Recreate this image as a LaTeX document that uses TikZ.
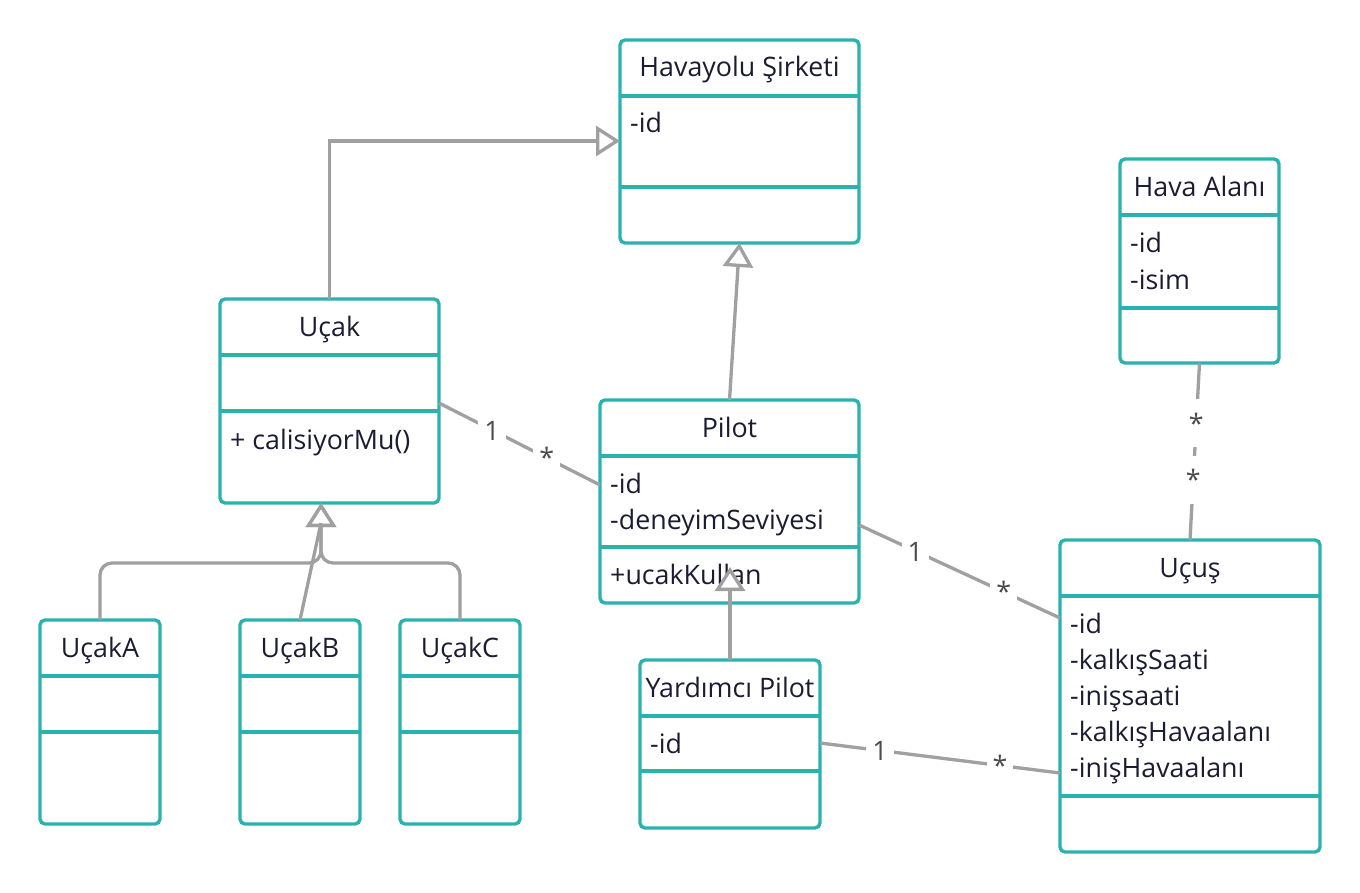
\documentclass[tikz,border=0pt]{standalone}
\usepackage{fontspec}
\setmainfont{Open Sans}
\usepackage{tikz}
\usetikzlibrary{arrows.meta}

\definecolor{clsborder}{HTML}{2AB2AE}
\definecolor{clstext}{HTML}{1B1B33}
\definecolor{linegray}{HTML}{A0A0A0}
\definecolor{multtext}{HTML}{4A4A4A}

\tikzset{
  cls/.style={draw=clsborder, line width=3.4pt, rounded corners=5pt, anchor=north west,
              inner sep=0pt, outer sep=0pt},
  divider/.style={draw=clsborder, line width=3.4pt},
  title/.style={anchor=base, inner sep=0pt, text=clstext, font=\fontsize{26.8}{36}\selectfont},
  attr/.style={anchor=base west, inner sep=0pt, xshift=10pt, text=clstext, font=\fontsize{26.8}{36}\selectfont},
  gen/.style={draw=linegray, line width=3.3pt,
              -{Triangle[width=30pt, length=24pt, line width=3.3pt, fill=white]}},
  assoc/.style={draw=linegray, line width=3.3pt},
  mult/.style={fill=white, text=multtext, inner xsep=6pt, inner ysep=6pt,
               text height=28pt, text depth=8pt, font=\fontsize{26.8}{36}\selectfont}
}

\begin{document}
\begin{tikzpicture}[x=1pt, y=-1pt]
  \useasboundingbox (0,0) rectangle (1360,893);

  % Havayolu Sirketi
  \node[cls, minimum width=239pt, minimum height=203pt] (hav) at (620,40) {};
  \draw[divider] (hav.west |- 0,96) -- (hav.east |- 0,96);
  \draw[divider] (hav.west |- 0,187) -- (hav.east |- 0,187);
  \node[title] at (hav.north |- 0,77) {Havayolu Şirketi};
  \node[attr] at (hav.west |- 0,133) {-id};

  % Ucak
  \node[cls, minimum width=219pt, minimum height=204pt] (ucak) at (220,299) {};
  \draw[divider] (ucak.west |- 0,355) -- (ucak.east |- 0,355);
  \draw[divider] (ucak.west |- 0,411) -- (ucak.east |- 0,411);
  \node[title] at (ucak.north |- 0,336) {Uçak};
  \node[attr] at (ucak.west |- 0,449) {+ calisiyorMu()};

  % Pilot
  \node[cls, minimum width=259pt, minimum height=203pt] (pilot) at (600,400) {};
  \draw[divider] (pilot.west |- 0,456) -- (pilot.east |- 0,456);
  \draw[divider] (pilot.west |- 0,547) -- (pilot.east |- 0,547);
  \node[title] at (pilot.north |- 0,437) {Pilot};
  \node[attr] at (pilot.west |- 0,493) {-id};
  \node[attr] at (pilot.west |- 0,529) {-deneyimSeviyesi};
  \node[attr] at (pilot.west |- 0,584) {+ucakKullan};

  % Hava Alani
  \node[cls, minimum width=159pt, minimum height=204pt] (hava) at (1120,159) {};
  \draw[divider] (hava.west |- 0,215) -- (hava.east |- 0,215);
  \draw[divider] (hava.west |- 0,308) -- (hava.east |- 0,308);
  \node[title] at (hava.north |- 0,197) {Hava Alanı};
  \node[attr] at (hava.west |- 0,253) {-id};
  \node[attr] at (hava.west |- 0,290) {-isim};

  % Ucus
  \node[cls, minimum width=260pt, minimum height=312pt] (ucus) at (1060,540) {};
  \draw[divider] (ucus.west |- 0,596) -- (ucus.east |- 0,596);
  \draw[divider] (ucus.west |- 0,796) -- (ucus.east |- 0,796);
  \node[title] at (ucus.north |- 0,577) {Uçuş};
  \node[attr] at (ucus.west |- 0,633) {-id};
  \node[attr] at (ucus.west |- 0,669) {-kalkışSaati};
  \node[attr] at (ucus.west |- 0,705) {-inişsaati};
  \node[attr] at (ucus.west |- 0,741) {-kalkışHavaalanı};
  \node[attr] at (ucus.west |- 0,777) {-inişHavaalanı};

  % Yardimci Pilot
  \node[cls, minimum width=180pt, minimum height=168pt] (yard) at (640,660) {};
  \draw[divider] (yard.west |- 0,716) -- (yard.east |- 0,716);
  \draw[divider] (yard.west |- 0,771) -- (yard.east |- 0,771);
  \node[title] at (yard.north |- 0,697) {Yardımcı Pilot};
  \node[attr] at (yard.west |- 0,753) {-id};

  % UcakA, UcakB, UcakC
  \node[cls, minimum width=120pt, minimum height=204pt] (ucakA) at (40,620) {};
  \draw[divider] (ucakA.west |- 0,676) -- (ucakA.east |- 0,676);
  \draw[divider] (ucakA.west |- 0,732) -- (ucakA.east |- 0,732);
  \node[title] at (ucakA.north |- 0,657) {UçakA};

  \node[cls, minimum width=120pt, minimum height=204pt] (ucakB) at (240,620) {};
  \draw[divider] (ucakB.west |- 0,676) -- (ucakB.east |- 0,676);
  \draw[divider] (ucakB.west |- 0,732) -- (ucakB.east |- 0,732);
  \node[title] at (ucakB.north |- 0,657) {UçakB};

  \node[cls, minimum width=120pt, minimum height=204pt] (ucakC) at (400,620) {};
  \draw[divider] (ucakC.west |- 0,676) -- (ucakC.east |- 0,676);
  \draw[divider] (ucakC.west |- 0,732) -- (ucakC.east |- 0,732);
  \node[title] at (ucakC.north |- 0,657) {UçakC};

  % generalisations
  \draw[gen] (ucak.north) |- (hav.west |- 0,141);
  \draw[gen] (pilot.north) -- (hav.south);
  \draw[gen] (yard.north) -- (yard.north |- 0,567);
  \draw[gen, rounded corners=12pt] (ucakA.north) |- (321,563) -- (ucak.south -| 321,0);
  \draw[gen, rounded corners=12pt] (ucakC.north) |- (321,563) -- (ucak.south -| 321,0);
  \draw[assoc] (ucakB.north) -- (321,523);

  % associations
  \draw[assoc] (ucak.east |- 0,403) -- node[mult, pos=0.33] {1} node[mult, pos=0.67] {*} (pilot.west |- 0,485);
  \draw[assoc] (pilot.east |- 0,525) -- node[mult, pos=0.28] {1} node[mult, pos=0.72] {*} (ucus.west |- 0,618);
  \draw[assoc] (yard.east |- 0,743) -- node[mult, pos=0.25] {1} node[mult, pos=0.75] {*} (ucus.west |- 0,773);
  \draw[assoc] (hava.south) -- node[mult, pos=0.34] {*} node[mult, pos=0.66] {*} (ucus.north);
\end{tikzpicture}
\end{document}
